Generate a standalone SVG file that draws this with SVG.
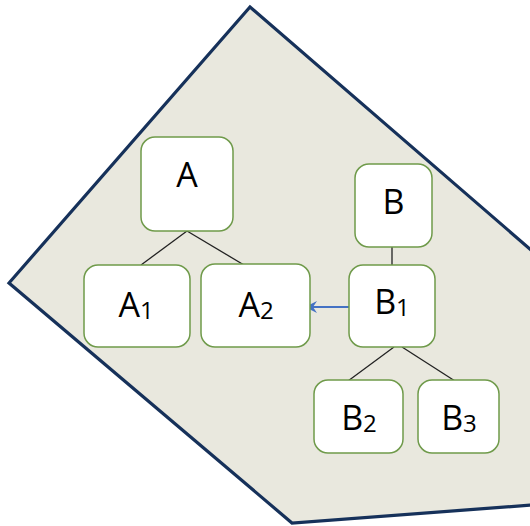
<svg xmlns="http://www.w3.org/2000/svg" width="530" height="526" viewBox="0 0 530 526">
<style>
.node rect{fill:#fff;stroke:#6f9a4a;stroke-width:1.5}
.node text{font-family:"Open Sans","Liberation Sans",sans-serif;font-size:34px;fill:#000;text-anchor:middle}
.sub{font-size:24px}
.edge{stroke:#222;stroke-width:1.3;fill:none}
.arrow{stroke:#4472c4;stroke-width:2;fill:none}
</style>
<defs>
<marker id="ah" markerWidth="14" markerHeight="14" refX="11" refY="6" orient="auto" markerUnits="userSpaceOnUse">
<path d="M0,0 L12,6 L0,12 L4,6 Z" fill="#4472c4"/>
</marker>
</defs>
<polygon points="250,7 545,262 545,504 292,523 9,283" fill="#e9e8de" stroke="#16315a" stroke-width="3.2" stroke-linejoin="miter"/>
<g id="connectors">
<line class="edge" x1="187" y1="231" x2="141" y2="265"/>
<line class="edge" x1="187" y1="231" x2="244" y2="265"/>
<line class="edge" x1="392" y1="243" x2="392" y2="269"/>
<line class="edge" x1="394" y1="347" x2="348" y2="381"/>
<line class="edge" x1="402" y1="347" x2="455" y2="381"/>
<line class="arrow" x1="349" y1="307" x2="306" y2="307" marker-end="url(#ah)"/>
</g>
<g id="A" class="node"><rect x="141" y="137" width="92" height="94" rx="14"/><text x="187" y="187">A</text></g>
<g id="A1" class="node"><rect x="84" y="265" width="106" height="82" rx="14"/><text x="136" y="317">A<tspan class="sub" dy="2">1</tspan></text></g>
<g id="A2" class="node"><rect x="201" y="264" width="109" height="83" rx="14"/><text x="256" y="317">A<tspan class="sub" dy="2">2</tspan></text></g>
<g id="B" class="node"><rect x="355" y="164" width="77" height="83" rx="14"/><text x="393.5" y="214">B</text></g>
<g id="B1" class="node"><rect x="349" y="265" width="86" height="82" rx="14"/><text x="392" y="314">B<tspan class="sub" dy="2">1</tspan></text></g>
<g id="B2" class="node"><rect x="314" y="380" width="89" height="73" rx="14"/><text x="359" y="430">B<tspan class="sub" dy="2">2</tspan></text></g>
<g id="B3" class="node"><rect x="418" y="380" width="81" height="73" rx="14"/><text x="459" y="430">B<tspan class="sub" dy="2">3</tspan></text></g>
</svg>
